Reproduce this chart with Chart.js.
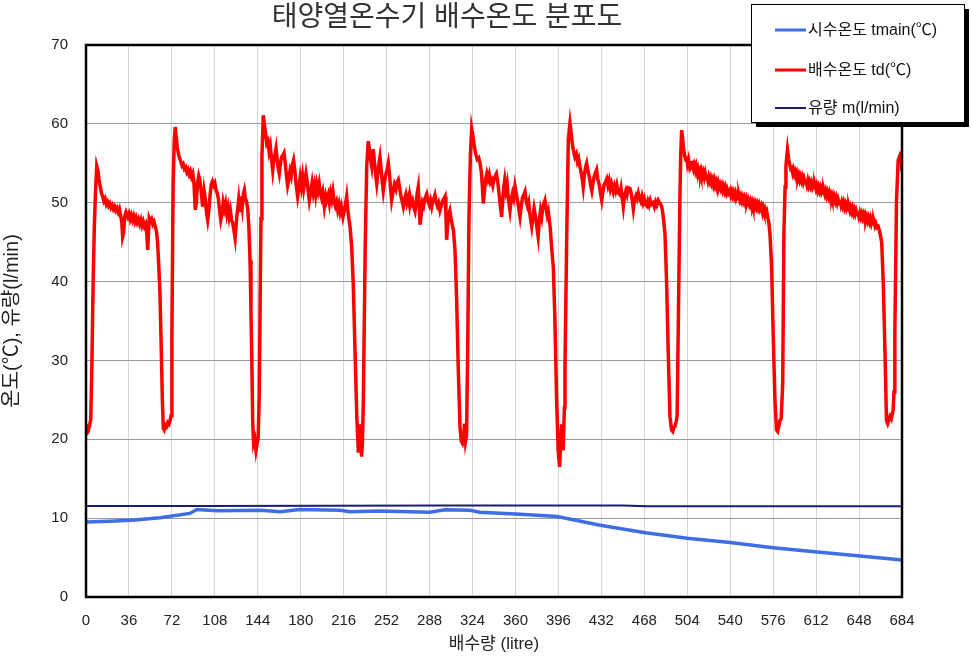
<!DOCTYPE html>
<html><head><meta charset="utf-8">
<script src="https://cdn.jsdelivr.net/npm/chart.js@4.4.0/dist/chart.umd.min.js"></script>
<style>html,body{margin:0;padding:0;background:#fff;} canvas{display:block;}</style>
</head><body>
<canvas id="c" width="971" height="657"></canvas>
<script>
const chartTitle = '태양열온수기 배수온도 분포도';
const xAxisTitle = '배수량 (litre)';
const yAxisTitle = '온도(℃), 유량(l/min)';
const seriesLabels = ['시수온도 tmain(℃)', '배수온도 td(℃)', '유량 m(l/min)'];
const xRange = [0, 684, 36];
const yRange = [0, 70, 10];

// 시수온도 tmain (litre, ℃)
const mainsTemp = [[0,9.5],[20,9.6],[41,9.75],[62,10.05],[87,10.6],[93,11.1],[110,10.95],[146,11.0],[163,10.8],[179,11.1],[213,11.0],[221,10.8],[246,10.9],[288,10.75],[301,11.05],[322,11.0],[330,10.75],[364,10.5],[395,10.2],[431,9.1],[469,8.15],[504,7.45],[540,6.9],[576,6.25],[613,5.7],[649,5.2],[684,4.7]];

// 유량 m (litre, l/min)
const flowRate = [[0,11.55],[100,11.55],[300,11.6],[450,11.6],[470,11.5],[684,11.5]];

// 배수온도 td (litre, ℃)
const drainTemp = [
[0,20.5],[1,21.5],[2,21.2],[3,21.8],[4,22.5],[5,30],[6,40],[7,47],[8,51.5],[9,54.6],[10,54],[11,52.8],[12,52],[13,51.2],[14,50.8],[15,50.2],[16,50.5],[17,49.8],[18,50.1],[19,49.6],[20,49.9],[21,49.4],[22,49.7],[23,49.2],[24,49.5],[25,49],[26,49.3],[27,48.8],[28,49.2],[29,48.4],[30,47.5],[30.7,45.7],[31.5,46.2],[32.5,48.3],[33.5,48.8],[35,48.2],[36,48.6],[37,47.9],[38,48.4],[39,47.8],[40,48.3],[41,47.6],[42,48.1],[43,47.5],[44,47.9],[45,47.3],[46,47.8],[47,47.1],[48,47.6],[49,47],[50,47.3],[51,46],[51.7,44],[52.3,46],[53,48],[54,47.6],[55,47.9],[56,47.3],[57,47.6],[58,47],[59,46.4],[60,45],[61,42],[62,38.5],[63,32],[64,25],[64.8,21.4],[65.5,21.2],[66.5,21.8],[67.5,21.6],[68.5,22.1],[69.5,21.9],[70.5,22.4],[71.3,23],[72,33],[73,52],[74,58],[74.8,59.6],
[75.5,58.5],[76.5,57],[77.5,56.2],[78.5,55.6],[79.5,55.2],[80.5,54.7],[81.5,54.9],[82.5,54.3],[83.5,54.5],[84.5,53.9],[85.5,54.2],[86.5,53.6],[87.5,54],[88.5,53.3],[89.5,53.7],[90.5,52.5],[91.6,49.1],[92.5,50],[93.5,52.5],[94.5,53.4],[95.5,52.8],[96.5,51.5],[97.8,49.5],[99,51.5],[100,50.5],[101,48.8],[102,47.8],[103,49],[104,51],[105,52.3],[106,52.7],[107,52.2],[108,52.5],[109,51.6],[110,51.2],[111,50.5],[112,49],[113,47.8],[114,48.5],[115,50],[116,49.2],[117,49.9],[118,48.6],[119,49.4],[120,48.2],[121,49],[122,47.8],[123,47.4],[124,46.5],[125,45.5],[126,47.5],[127,49],[128,50.4],[129,48.8],[130,50.8],[131,49.5],[132,51.2],[132.7,51.6],[133.5,50.6],[134.5,50.2],[135.5,49.3],[136.5,47],[137.5,42.7],[138.3,36],[139,30],[139.7,22.4],[140.5,19.5],[141.5,20],[142.5,18.6],[143.5,19.5],[144.3,20.2],[145.3,26],[146,38],[146.7,48],[147.5,56],[148.6,61.1],
[149.5,60],[150.5,58.8],[151.5,57.5],[152.5,57.8],[153.5,56.5],[154.5,57.2],[155.5,55.5],[156.5,54.1],[157.5,55.6],[158.5,56.2],[159.3,56.9],[160.2,55.5],[161,54.5],[162,53.7],[163,55],[164,55.8],[165,56],[166,56.3],[167,55],[168,53.5],[169,52.2],[170,53],[171,54],[172,53.4],[173,54.8],[174,55.4],[175,54.2],[176,52.5],[177.4,50.8],[178.5,52],[179.5,53.2],[180.5,52.1],[181.5,53.3],[182.5,51.8],[183.5,52.8],[184.4,53.7],[185.5,52.6],[186.5,51.2],[187.2,50.3],[188.5,51.5],[189.5,52.5],[190.5,51.3],[191.5,52.2],[192.5,51],[193.5,52.3],[194.5,51.5],[195.5,52.4],[196.5,51.2],[197.5,50.6],[198.5,51.3],[199.8,49.5],[201,50.8],[201.7,50.3],[203,51],[204,50],[205,51.2],[206,50.4],[207,51.4],[208,50.2],[209,49.6],[210,50.1],[211,49.1],[212,49.8],[213,48.8],[214,49.5],[215.4,48.2],[216.5,49],[217.5,49.8],[218.5,50.8],[219.5,49],[220.5,47.8],[221.3,47],[222.7,44.4],[224,39.8],[225.5,31.3],[227,22.9],[228.3,18.3],[229,20],[230,21.9],[231,17.8],[231.7,19.5],[232.5,25],[234,44],[235.3,54.6],[236.6,57.8],
[237.5,56.8],[238.5,55.5],[239.5,54.6],[240.2,55.8],[240.8,56.8],[241.8,55.2],[242.8,53.5],[243.7,52.4],[244.7,53.8],[245.6,55],[246.4,55.8],[247.4,54.2],[248.4,52.6],[249.2,51.5],[250.3,52.8],[251.3,53.6],[252.4,54.2],[253.4,55],[254.5,53.4],[255.4,51.6],[256.2,50.3],[257.5,51.5],[258.5,52.3],[259.8,51.7],[260.8,52.6],[261.8,52.9],[263,51.8],[264,50.8],[265,50.2],[266,49.5],[267,50.4],[268,51],[269,50],[270,50.6],[271,49.8],[271.6,50.8],[272.7,49.9],[273.7,50.3],[274.8,49.4],[275.8,48.9],[276.8,50],[277.6,51.2],[278.5,52],[279.2,50],[280,47.2],[281,48.5],[282,50],[283,49.6],[284,50.5],[285.6,51.1],[286.7,50.2],[287.8,49.7],[288.8,50.3],[289.8,49.5],[290.8,50.3],[291.7,50.6],[292.5,51],[293.5,50.1],[294.5,49.6],[295.5,50],[296.7,49],[297.8,49.6],[298.8,50.2],[300,50.5],[301,50.8],[301.7,48.5],[302.3,45.3],[303,47],[304,48.5],[305,49],[306,48],[307,47.2],[308,46.5],[309.3,44],[310.7,37.7],[312,29.2],[313.5,21.6],[314.5,19.8],[315.5,19.5],[316.5,20.2],[317.3,22],[318.2,19.8],[319,20.5],[320,32],[321,48],[322.2,56],[323.3,59.4],
[324.3,58.5],[325.2,57.5],[326,56.7],[327,56],[328,55.5],[329.2,55.7],[330.3,55],[331.3,54],[332.2,52.2],[333,49.9],[334,51.5],[335,53],[336,53.7],[337,53],[338,53.6],[339,52.6],[340,52.9],[341,52.2],[342,53],[343,53.4],[344,53.7],[345,52.8],[346,51.5],[347.3,49.6],[348.4,48.2],[349.4,50.5],[350.2,52],[351,52.9],[352,51.6],[353,52.4],[354,50.6],[355.4,49],[356.5,50.5],[357.5,51.2],[358.5,50.6],[359.6,52.1],[360.6,51.2],[361.6,50.4],[362.7,49.3],[363.8,48.2],[364.8,49.5],[365.8,50.6],[367,51],[368,51.4],[369,50.2],[370,49.6],[371,50.1],[372,48.6],[373.6,47],[374.6,48.2],[375.6,49.3],[376.6,48.4],[377.6,47.3],[379,45.7],[380,47.8],[381,49],[382,48.2],[383,49.5],[384.7,50.3],[385.7,49.2],[386.6,48.4],[387.5,48.9],[389,47],[390,45],[391,43],[391.7,41.9],[393,35.5],[394.5,25],[395.8,18.6],[397,16.5],[397.8,19.5],[398.7,21.9],[399.3,20],[400,18.6],[401,24],[401.5,29.2],[403,46.1],[404.3,58],[405.7,60.1],
[406.7,58.8],[407.6,57.5],[408.5,56.7],[409.8,55.8],[411,56.2],[412,55.2],[413,55.6],[414,54.6],[415,53.8],[416,53],[416.8,52],[417.8,53.6],[418.8,54.5],[419.7,55],[420.8,54],[422,53.2],[423,52.2],[424,51.5],[425,52.5],[426,53.4],[427,53.8],[428,54.2],[429,53],[430,52.4],[431,51.5],[432.3,50.3],[433.3,51.4],[434.3,52.3],[435.5,52.6],[436.5,53],[437.5,52.2],[438.5,52.8],[439.5,51.8],[440.5,52.4],[442,51.4],[443,52.1],[444,51.5],[445,52.2],[446,51.3],[447.6,51],[448.5,51.8],[449.5,50.6],[450.4,49.5],[451.3,50.8],[452.5,51.5],[453.5,51],[454.5,51.9],[456,51.8],[457,51.2],[458,50.2],[458.8,49.2],[459.8,50.4],[461,50.9],[462,50.5],[463,51.2],[464,50.6],[465,50.2],[466,50.8],[467,50],[468,50.5],[469,49.8],[470,49.6],[471,50.2],[472,49.7],[473,50.3],[474,49.8],[475.5,50],[476.5,49.5],[477.5,50.1],[478.5,49.7],[479.7,50.3],[480.7,50],[481.7,49.8],[482.6,49.5],[483.5,48.7],[484.4,47.5],[485.3,46.1],[486,43],[486.7,39.8],[488,31.3],[489.5,22.9],[490.8,21.2],[491.8,21],[492.7,21.5],[493.6,21.6],[494.5,22.1],[495.5,22.9],[496.4,33.5],[497.8,50.3],[498.5,56],[499.3,59.2],
[500.2,58],[501,56.8],[502,55.8],[503,55.4],[503.6,55.9],[504.2,55],[505,55.5],[505.8,54.7],[506.3,55],[507,55.3],[507.5,54.6],[508.5,54.9],[509.3,54.3],[510,54.7],[510.8,54.1],[511.5,54.6],[512.3,53.9],[513,54.3],[513.8,53.7],[514.7,54.1],[515.4,53.6],[516,54],[516.8,53.4],[517.5,53.8],[518.3,53.2],[519,53.7],[519.8,53],[520.5,53.4],[521.3,52.8],[522,53.3],[523,52.7],[523.7,53.1],[524.5,52.5],[525.3,52.9],[526,52.3],[526.8,52.8],[527.5,52.2],[528.3,52.6],[529,52],[529.8,52.5],[530.5,51.9],[531.4,52.3],[532.2,51.8],[533,52.2],[533.8,51.6],[534.5,52],[535.3,51.5],[536,51.9],[536.8,51.3],[537.5,51.7],[538.5,51.2],[539.8,51.6],[540.5,51],[541.3,51.4],[542,50.9],[542.8,51.3],[543.5,50.8],[544.3,51.2],[545,50.6],[545.8,51],[546.6,50.5],[547.3,50.9],[548,50.4],[548.8,50.8],[549.5,50.3],[550.3,50.7],[551,50.2],[551.8,50.6],[552.5,50.1],[553.3,50.5],[554,49.9],[555,50.4],[556,49.8],[556.8,50.2],[557.5,49.7],[558.3,50.1],[559,49.6],[559.8,50],[560.5,49.5],[561.3,49.9],[562,49.4],[562.8,49.8],[563.5,49.3],[564.3,49.7],[565,49.2],[566,49.6],[566.8,49],[567.5,49.4],[568.3,48.9],[569,49.2],[569.8,48.6],[570.6,48.9],[571.5,48.1],[572.5,47.3],[573.3,46.1],[574,44],[574.7,41.9],[576,33.5],[577.5,25],[578.8,21.2],[579.8,21],[580.8,21.7],[581.7,22.4],[582.7,22.6],[584,27],[585,46.1],[586,52],[586.7,54.6],[588,56.7],
[589,55.5],[590,54.8],[590.8,54.3],[591.5,54.4],[592.3,53.8],[593,54.2],[593.8,53.6],[594.5,53.9],[595.3,53.3],[596,53.7],[596.8,53.1],[597.5,53.5],[598.3,52.9],[599,53.3],[599.8,52.8],[600.5,53.2],[601.3,52.6],[602,53],[602.8,52.5],[603.5,52.9],[604.3,52.3],[605,52.8],[605.8,52.2],[606.5,52.6],[607.3,52.1],[608,52.5],[608.8,52],[609.5,52.4],[610.3,51.9],[611,52.3],[611.8,51.8],[612.5,52.2],[613.3,51.6],[614,52],[614.8,51.5],[615.5,51.9],[616.3,51.4],[617,51.8],[617.8,51.2],[618.5,51.6],[619.3,51.1],[620,51.5],[620.8,50.9],[621.5,51.3],[622.3,50.8],[623,51.2],[623.8,50.6],[624.5,51],[625.3,50.5],[626,50.9],[626.8,50.3],[627.5,50.7],[628.3,50.2],[629,50.6],[629.8,50],[630.5,50.4],[631.3,49.9],[632,50.3],[632.8,49.7],[633.5,50.1],[634.3,49.6],[635,50],[635.8,49.4],[636.5,49.8],[637.3,49.3],[638,49.7],[638.8,49.1],[639.5,49.5],[640.3,49],[641,49.4],[641.8,48.9],[642.5,49.3],[643.3,48.7],[644,49.1],[644.8,48.6],[645.5,49],[646.3,48.5],[647,48.9],[647.8,48.3],[648.5,48.7],[649.3,48.2],[650,48.6],[650.8,48.1],[651.5,48.5],[652.3,48],[653,48.4],[653.8,47.8],[654.5,48.2],[655.3,47.7],[656,48.1],[656.8,47.6],[657.5,48],[658.3,47.4],[659,47.8],[659.8,47.3],[660.5,47.6],[661.3,47.1],[662,47.4],[663,46.9],[664,47],[665,46.5],[666,45.8],[667,44.9],[668.3,39.8],[669.7,31.3],[671,22.4],[672,22],[673,22.5],[673.9,22.9],[675,22.6],[676.6,23.7],[677.3,26],[678,33.5],[679.4,50.3],[680.8,55.4],[682.3,56],[683.5,55.5],[684,54]
];

const FONT = "'Liberation Sans', 'Noto Sans CJK KR', sans-serif";
const toXY = arr => arr.map(p => ({x: p[0], y: p[1]}));

const frameAndTitle = {
  id: 'frameAndTitle',
  afterDatasetsDraw(chart) {
    const {ctx, chartArea: a} = chart;
    ctx.save();
    ctx.strokeStyle = '#000';
    ctx.lineWidth = 2.5;
    ctx.strokeRect(a.left, a.top, a.right - a.left, a.bottom - a.top);
    ctx.restore();
  },
  afterDraw(chart) {
    const ctx = chart.ctx;
    ctx.save();
    ctx.fillStyle = '#333';
    ctx.font = "28px " + FONT;
    ctx.textAlign = 'center';
    ctx.textBaseline = 'middle';
    ctx.fillText(chartTitle, 447, 18);
    const bx = 751, by = 4, bw = 213, bh = 118, sh = 5;
    ctx.fillStyle = '#000';
    ctx.fillRect(bx + sh, by + sh, bw, bh);
    ctx.fillStyle = '#fff';
    ctx.fillRect(bx, by, bw, bh);
    ctx.strokeStyle = '#000';
    ctx.lineWidth = 1;
    ctx.strokeRect(bx + 0.5, by + 0.5, bw, bh);
    const rows = [30, 70, 108];
    chart.data.datasets.forEach((ds, i) => {
      const y = rows[i];
      ctx.strokeStyle = ds.borderColor;
      ctx.lineWidth = i === 2 ? 2 : 3;
      ctx.beginPath();
      ctx.moveTo(775, y);
      ctx.lineTo(806, y);
      ctx.stroke();
      ctx.fillStyle = '#111';
      ctx.font = "16px " + FONT;
      ctx.textAlign = 'left';
      ctx.textBaseline = 'middle';
      ctx.fillText(ds.label, 808, y + 1);
    });
    ctx.restore();
  }
};

new Chart(document.getElementById('c'), {
  type: 'line',
  data: {
    datasets: [
      {label: seriesLabels[0], data: toXY(mainsTemp), borderColor: '#3e6ee6', borderWidth: 3.5, pointRadius: 0, tension: 0, order: 2},
      {label: seriesLabels[1], data: toXY(drainTemp), borderColor: '#ff0000', borderWidth: 3.5, pointRadius: 0, tension: 0, order: 1},
      {label: seriesLabels[2], data: toXY(flowRate), borderColor: '#1c1c78', borderWidth: 2, pointRadius: 0, tension: 0, order: 3}
    ]
  },
  options: {
    responsive: false,
    animation: false,
    events: [],
    layout: {padding: {left: 0, top: 45, right: 69, bottom: 0}},
    plugins: {legend: {display: false}, title: {display: false}, tooltip: {enabled: false}},
    scales: {
      x: {
        type: 'linear', min: xRange[0], max: xRange[1],
        afterFit: s => { s.height = 60; },
        ticks: {stepSize: xRange[2], autoSkip: false, maxRotation: 0, padding: 15, color: '#222', font: {family: FONT, size: 15}},
        grid: {color: '#d4d4d4', lineWidth: 1, drawTicks: false},
        border: {display: false},
        title: {display: true, text: xAxisTitle, color: '#222', font: {family: FONT, size: 17}, padding: {top: 0, bottom: 2}}
      },
      y: {
        min: yRange[0], max: yRange[1],
        afterFit: s => { s.width = 86; },
        ticks: {stepSize: yRange[2], padding: 18, color: '#222', font: {family: FONT, size: 15}},
        grid: {color: '#999', lineWidth: 1, drawTicks: false},
        border: {display: false},
        title: {display: true, text: yAxisTitle, color: '#222', font: {family: FONT, size: 20}, padding: {top: 0, bottom: 6}}
      }
    }
  },
  plugins: [frameAndTitle]
});
</script>
</body></html>
